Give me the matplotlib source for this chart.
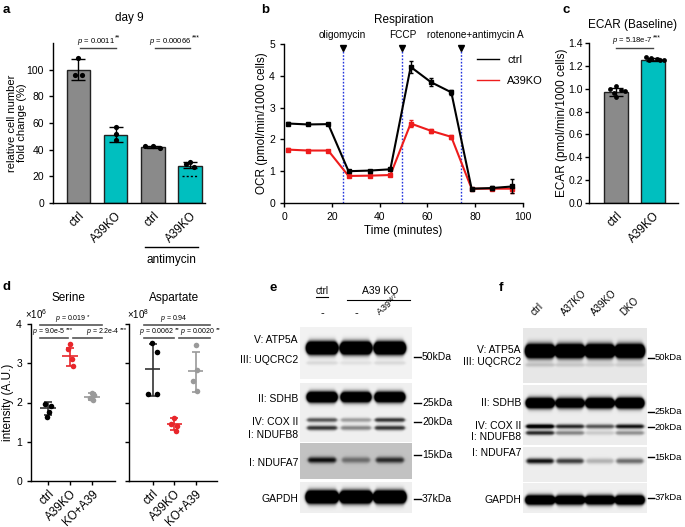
import numpy as np
import matplotlib
matplotlib.use('Agg')
import matplotlib.pyplot as plt
from matplotlib.lines import Line2D

plt.rcParams['font.family'] = ['Liberation Sans', 'DejaVu Sans']
plt.rcParams['mathtext.fontset'] = 'custom'
plt.rcParams['mathtext.rm'] = 'Liberation Sans'
plt.rcParams['mathtext.it'] = 'Liberation Sans:italic'
plt.rcParams['axes.linewidth'] = 1.0
plt.rcParams['xtick.major.width'] = 1.0
plt.rcParams['ytick.major.width'] = 1.0
plt.rcParams['xtick.major.size'] = 3
plt.rcParams['ytick.major.size'] = 3
plt.rcParams['font.size'] = 7.5

GRAY = '#8a8a8a'
TEAL = '#00bfbf'

# ---- data -------------------------------------------------------------
# a: day 9 cell number
a_labels = ['ctrl', 'A39KO', 'ctrl', 'A39KO']
a_means = [100, 51, 42, 28]
a_err_lo = [92, 46, 41.5, 26]
a_err_hi = [108, 57, 42.8, 31]
a_points = [[109, 96, 96], [57, 52, 47], [42.5, 42.5, 41.5], [31, 29, 27]]
a_jitter = [[0.0, -0.1, 0.1], [0.0, 0.0, 0.0], [-0.2, 0.0, 0.2], [0.0, -0.1, 0.1]]
a_dotted = 20

# b: respiration (Seahorse)
b_time = [1.5, 10, 18.5, 27, 36, 44.5, 53, 61.5, 70, 78.5, 87, 95.5]
b_ctrl = [2.50, 2.47, 2.48, 1.00, 1.02, 1.06, 4.28, 3.80, 3.48, 0.45, 0.47, 0.52]
b_ctrl_err = [0.05, 0.03, 0.02, 0.03, 0.03, 0.03, 0.18, 0.12, 0.08, 0.03, 0.06, 0.22]
b_ko = [1.68, 1.65, 1.65, 0.85, 0.86, 0.88, 2.50, 2.27, 2.08, 0.45, 0.45, 0.45]
b_ko_err = [0.05, 0.03, 0.03, 0.04, 0.03, 0.03, 0.10, 0.07, 0.07, 0.03, 0.04, 0.12]
b_inject = [24.5, 49.5, 74]
b_inject_labels = ['oligomycin', 'FCCP', 'rotenone+antimycin A']
b_inject_text_x = [24.3, 49.9, 80]

# c: ECAR
c_labels = ['ctrl', 'A39KO']
c_means = [0.975, 1.255]
c_err = [0.035, 0.015]
c_points = [[1.02, 1.0, 0.99, 0.98, 0.96, 0.93], [1.28, 1.27, 1.26, 1.25, 1.25, 1.25]]
c_jitter = [[0.0, -0.15, 0.15, 0.25, -0.05, 0.0], [-0.2, -0.05, 0.1, 0.2, 0.3, -0.1]]

# d: metabolites
d_labels = ['ctrl', 'A39KO', 'KO+A39']
ser_points = [[1.95, 1.91, 1.77, 1.64], [3.49, 3.36, 3.10, 2.94], [2.25, 2.20, 2.12, 2.07]]
ser_mean = [1.87, 3.18, 2.15]
ser_lo = [1.68, 2.93, 2.07]
ser_hi = [2.02, 3.40, 2.23]
asp_points = [[3.52, 3.29, 2.22, 2.22], [1.60, 1.45, 1.40, 1.28], [3.47, 2.82, 2.55, 2.30]]
asp_mean = [2.85, 1.44, 2.80]
asp_lo = [2.17, 1.30, 2.28]
asp_hi = [3.48, 1.60, 3.29]
d_jitter = [[-0.15, 0.15, 0.05, -0.05], [0.0, -0.1, 0.1, 0.15], [0.0, 0.1, -0.1, 0.05]]
asp_jitter = [[-0.05, 0.2, -0.2, 0.2], [0.0, -0.15, 0.15, 0.1], [0.0, 0.05, -0.1, 0.05]]
d_colors = ['black', '#e8262b', '#9a9a9a']

# e / f: western blot band intensities per lane
e_bands = {
    'ATP5A': [3.0, 3.0, 3.0],
    'UQCRC2': [0.10, 0.07, 0.10],
    'SDHB': [2.6, 2.4, 2.4],
    'COXII': [0.65, 0.35, 0.80],
    'NDUFB8': [0.80, 0.45, 0.80],
    'NDUFA7': [0.95, 0.45, 0.80],
    'GAPDH': [3.0, 3.0, 3.0],
}
f_bands = {
    'ATP5A': [3.0, 3.0, 3.0, 3.0],
    'UQCRC2': [0.16, 0.13, 0.10, 0.11],
    'SDHB': [2.4, 2.0, 2.4, 2.6],
    'COXII': [1.2, 0.85, 0.65, 0.95],
    'NDUFB8': [0.85, 0.45, 0.15, 0.40],
    'NDUFA7': [0.95, 0.75, 0.25, 0.55],
    'GAPDH': [2.2, 2.0, 2.0, 2.2],
}

W, H = 685, 527
fig = plt.figure(figsize=(W / 100, H / 100), dpi=100)


def ax_px(l, t, r, b):
    return fig.add_axes([l / W, 1 - b / H, (r - l) / W, (b - t) / H])


def ptext(ax, x, y, txt, stars='', fs=5.5):
    t = ax.text(x, y, r'$\it{p}$ = ' + txt, ha='center', va='bottom', fontsize=fs, clip_on=False)
    if stars:
        ax.annotate(stars, xy=(1, 0.45), xycoords=t, ha='left', va='bottom', fontsize=fs * 0.9,
                    xytext=(0.2, 0), textcoords='offset points', annotation_clip=False)
    return t


def clean(ax):
    ax.spines['top'].set_visible(False)
    ax.spines['right'].set_visible(False)


# ---- panel a ----------------------------------------------------------
ax = ax_px(53, 43, 205, 203)
clean(ax)
xa = np.arange(len(a_means))
cols = [GRAY, TEAL, GRAY, TEAL]
ax.bar(xa, a_means, width=0.63, color=cols, edgecolor='#222222', linewidth=1.0, zorder=1)
yerr = [np.array(a_means) - np.array(a_err_lo), np.array(a_err_hi) - np.array(a_means)]
ax.errorbar(xa, a_means, yerr=yerr, fmt='none', ecolor='black', elinewidth=1.0, capsize=5, capthick=1.0, zorder=3)
for i, pts in enumerate(a_points):
    ax.scatter(xa[i] + np.array(a_jitter[i]), pts, s=14, color='black', zorder=4, lw=0)
ax.hlines(a_dotted, 3 - 0.22, 3 + 0.22, colors='black', linestyles=(0, (1.5, 1.5)), lw=1.0, zorder=3)
ax.set_xlim(-0.68, 3.4)
ax.set_ylim(0, 120)
ax.set_yticks([0, 20, 40, 60, 80, 100])
ax.set_xticks(xa)
ax.set_xticklabels(a_labels, rotation=45, ha='right', rotation_mode='anchor', fontsize=8.5)
ax.tick_params(axis='x', length=0, pad=5)
ax.set_ylabel('relative cell number\nfold change (%)', fontsize=8, linespacing=1.05)
ax.yaxis.set_label_coords(-0.17, 0.5)
ax.set_title('day 9', fontsize=8.5, pad=16)
for (x0, x1, txt, st) in [(0.05, 1.0, '0.0011', '**'), (2.05, 3.0, '0.00066', '***')]:
    ax.plot([x0, x1], [116, 116], color='#444444', lw=1.0, clip_on=False)
    ptext(ax, (x0 + x1) / 2 - 0.05, 117.3, txt, st)

# ---- panel b ----------------------------------------------------------
ax = ax_px(284, 44, 523, 203)
clean(ax)
ax.errorbar(b_time, b_ctrl, yerr=b_ctrl_err, color='black', lw=1.5, capsize=1.5, elinewidth=1.0,
            marker='s', ms=2.5, zorder=3)
ax.errorbar(b_time, b_ko, yerr=b_ko_err, color='#ee1c1c', lw=1.5, capsize=1.5, elinewidth=1.0,
            marker='s', ms=2.5, zorder=2)
for xi, lab, tx in zip(b_inject, b_inject_labels, b_inject_text_x):
    ax.plot([xi, xi], [0, 4.78], color='#2233dd', lw=1.0, ls=(0, (1.2, 1.2)), zorder=1)
    ax.plot([xi], [4.87], marker='v', color='black', ms=4, clip_on=False)
    ax.text(tx, 5.28, lab, ha='center', va='center', fontsize=7.2, clip_on=False)
ax.set_xlim(0, 100)
ax.set_ylim(0, 5)
ax.set_xticks([0, 20, 40, 60, 80, 100])
ax.set_yticks([0, 1, 2, 3, 4, 5])
ax.set_xlabel('Time (minutes)', fontsize=8.5, labelpad=2)
ax.set_ylabel('OCR (pmol/min/1000 cells)', fontsize=8.5)
ax.yaxis.set_label_coords(-0.067, 0.5)
ax.set_title('Respiration', fontsize=8.5, pad=15)
handles = [Line2D([], [], color='black', lw=1.0), Line2D([], [], color='#ee1c1c', lw=1.0)]
ax.legend(handles, ['ctrl', 'A39KO'], frameon=False, loc='upper left', bbox_to_anchor=(0.79, 0.96),
          handlelength=2.0, labelspacing=1.0, fontsize=8, borderaxespad=0, handletextpad=0.7)

# ---- panel c ----------------------------------------------------------
ax = ax_px(589, 43, 678, 203)
clean(ax)
xc = np.arange(2)
ax.bar(xc, c_means, width=0.63, color=[GRAY, TEAL], edgecolor='#222222', linewidth=1.0, zorder=1)
ax.errorbar(xc, c_means, yerr=c_err, fmt='none', ecolor='black', elinewidth=1.0, capsize=5, capthick=1.0, zorder=3)
for i, pts in enumerate(c_points):
    ax.scatter(xc[i] + np.array(c_jitter[i]), pts, s=12, color='black', zorder=4, lw=0)
ax.set_xlim(-0.73, 1.68)
ax.set_ylim(0, 1.4)
ax.set_yticks(np.arange(0, 1.41, 0.2))
ax.set_yticklabels(['%.1f' % v for v in np.arange(0, 1.41, 0.2)])
ax.tick_params(axis='y', pad=1.5)
ax.set_xticks(xc)
ax.set_xticklabels(c_labels, rotation=45, ha='right', rotation_mode='anchor', fontsize=8.5)
ax.tick_params(axis='x', length=0, pad=5)
ax.set_ylabel('ECAR (pmol/min/1000 cells)', fontsize=8.5)
ax.yaxis.set_label_coords(-0.236, 0.5)
ax.plot([0, 1], [1.356, 1.356], color='#444444', lw=1.0, clip_on=False)
ptext(ax, 0.45, 1.37, '5.18e-7', '***')
ax.text(0.45, 1.56, 'ECAR (Baseline)', ha='center', va='center', fontsize=8.5, clip_on=False)


# ---- panel d ----------------------------------------------------------
def dot_panel(ax, pts_all, mean, lo, hi, jit, cols, xlim):
    clean(ax)
    for i in range(3):
        xs = i + np.array(jit[i])
        ecol = cols[i] if i else '#333333'
        ax.scatter(xs, pts_all[i], s=16, color=cols[i], zorder=3, lw=0)
        ax.errorbar([i], [mean[i]], yerr=[[mean[i] - lo[i]], [hi[i] - mean[i]]], fmt='none',
                    ecolor=ecol, elinewidth=1.2, capsize=3, capthick=1.2, zorder=2)
        ax.hlines(mean[i], i - 0.35, i + 0.35, colors=ecol, lw=1.2, zorder=2)
    ax.set_xlim(*xlim)
    ax.set_ylim(0, 4)
    ax.set_xticks([0, 1, 2])
    ax.set_xticklabels(d_labels, rotation=45, ha='right', rotation_mode='anchor', fontsize=8.5)
    ax.tick_params(axis='x', length=3, pad=2)


ax = ax_px(31, 324, 115, 481)
dot_panel(ax, ser_points, ser_mean, ser_lo, ser_hi, d_jitter, d_colors, (-0.77, 3.05))
ax.set_yticks([0, 1, 2, 3, 4])
ax.set_ylabel('intensity (A.U.)', fontsize=8.5)
ax.yaxis.set_label_coords(-0.2, 0.5)
ax.text(0.95, 4.66, 'Serine', ha='center', va='center', fontsize=8.5, clip_on=False)
ax.text(-1.05, 4.25, r'$\times10^{6}$', ha='left', va='center', fontsize=7, clip_on=False)
for (x0, x1, y, tx, txt, st) in [(-0.36, 2.46, 3.97, 1.05, '0.019', '*'),
                                 (-0.36, 0.91, 3.64, 0.05, '9.0e-5', '***'),
                                 (1.14, 2.46, 3.64, 2.5, '2.2e-4', '***')]:
    ax.plot([x0, x1], [y, y], color='#555555', lw=1.2, clip_on=False)
    ptext(ax, tx, y + 0.03, txt, st, fs=5)

ax = ax_px(129, 324, 217, 481)
dot_panel(ax, asp_points, asp_mean, asp_lo, asp_hi, asp_jitter, d_colors, (-1.1, 3.0))
ax.set_yticks([0, 1, 2, 3, 4])
ax.set_yticklabels([])
ax.text(1.0, 4.66, 'Aspartate', ha='center', va='center', fontsize=8.5, clip_on=False)
ax.text(-1.2, 4.25, r'$\times10^{8}$', ha='left', va='center', fontsize=7, clip_on=False)
for (x0, x1, y, tx, txt, st) in [(-0.39, 2.66, 3.97, 1.0, '0.94', ''),
                                 (-0.39, 0.99, 3.64, 0.2, '0.0062', '**'),
                                 (1.23, 2.66, 3.64, 2.1, '0.0020', '**')]:
    ax.plot([x0, x1], [y, y], color='#555555', lw=1.2, clip_on=False)
    ptext(ax, tx, y + 0.03, txt, st, fs=5)

# ---- overlay in pixel coordinates (letters, blots, annotations) -------
ov = fig.add_axes([0, 0, 1, 1], zorder=-1)
ov.set_xlim(0, W)
ov.set_ylim(H, 0)
ov.axis('off')

for lx, ly, lt in [(3, 10, 'a'), (261, 10, 'b'), (563, 10, 'c'), (3, 287, 'd'), (270, 288, 'e'), (499, 288, 'f')]:
    ov.text(lx, ly, lt, fontsize=9.5, fontweight='bold', ha='left', va='center')

# antimycin bracket under panel a
ov.plot([145, 198], [247, 247], color='black', lw=1.0)
ov.text(171.5, 254, 'antimycin', ha='center', va='top', fontsize=8.5)


def blot(x0, x1, y0, y1, bg, lanes_x, band_w, bands):
    xs = np.linspace(x0, x1, int((x1 - x0) * 3))
    ys = np.linspace(y0, y1, int((y1 - y0) * 3))
    X, Y = np.meshgrid(xs, ys)
    dark = np.zeros_like(X)
    for yc, sig, amps in bands:
        gy = np.exp(-0.5 * ((Y - yc) / sig) ** 2)
        for xc, a in zip(lanes_x, amps):
            half = band_w / 2 - 2.0 * np.clip(np.abs(Y - yc) / (sig * 2.2), 0, 1) ** 2
            gx = 0.5 * (np.tanh((X - (xc - half)) / 1.6) - np.tanh((X - (xc + half)) / 1.6))
            dark += a * gx * gy
    img = bg * (1 - np.clip(dark, 0, 1))
    ov.imshow(img, extent=(x0, x1, y1, y0), cmap='gray', vmin=0, vmax=1, aspect='auto',
              interpolation='bilinear', zorder=1)


# panel e
e_lx = [322, 356, 390]
blot(300, 412, 327, 379, 0.95, e_lx, 31, [(348, 4.0, e_bands['ATP5A']), (363, 1.5, e_bands['UQCRC2'])])
blot(300, 412, 383, 442, 0.94, e_lx, 30, [(397, 3.4, e_bands['SDHB']), (420, 1.6, e_bands['COXII']),
                                         (428, 1.7, e_bands['NDUFB8'])])
blot(300, 412, 443, 479, 0.76, e_lx, 28, [(460, 2.2, e_bands['NDUFA7'])])
blot(300, 412, 482, 513, 0.94, e_lx, 32, [(497, 4.0, e_bands['GAPDH'])])

for ty, tl in [(340, 'V: ATP5A'), (360, 'III: UQCRC2'), (399, 'II: SDHB'), (422, 'IV: COX II'),
               (435, 'I: NDUFB8'), (463, 'I: NDUFA7'), (499, 'GAPDH')]:
    ov.text(298, ty, tl, ha='right', va='center', fontsize=7.5)
for ty, tl in [(357, '50kDa'), (403, '25kDa'), (422, '20kDa'), (455, '15kDa'), (499, '37kDa')]:
    ov.plot([414, 421], [ty, ty], color='black', lw=1.0)
    ov.text(422, ty, tl, ha='left', va='center', fontsize=7.5)
ov.text(322, 291, 'ctrl', ha='center', va='center', fontsize=7)
ov.plot([316, 328], [297, 297], color='black', lw=0.8)
ov.text(380, 291, 'A39 KO', ha='center', va='center', fontsize=7.5)
ov.plot([347, 410], [300, 300], color='black', lw=0.8)
ov.text(322, 313, '-', ha='center', va='center', fontsize=8)
ov.text(356, 313, '-', ha='center', va='center', fontsize=8)
ov.text(381, 318, r'A39$^{WT}$', ha='left', va='bottom', fontsize=6.5, rotation=40, rotation_mode='anchor')

# panel f
f_lx = [540, 570, 600, 630]
blot(523, 647, 328, 383, 0.91, f_lx, 29, [(351, 4.3, f_bands['ATP5A']), (365, 1.5, f_bands['UQCRC2'])])
blot(523, 647, 385, 445, 0.93, f_lx, 28, [(403, 3.4, f_bands['SDHB']), (426.5, 1.6, f_bands['COXII']),
                                         (433, 1.6, f_bands['NDUFB8'])])
blot(523, 647, 447, 482, 0.93, f_lx, 27, [(461, 2.0, f_bands['NDUFA7'])])
blot(523, 647, 483, 513, 0.94, f_lx, 29, [(500, 3.2, f_bands['GAPDH'])])

for ty, tl in [(350, 'V: ATP5A'), (362, 'III: UQCRC2'), (403, 'II: SDHB'), (426, 'IV: COX II'),
               (437, 'I: NDUFB8'), (453, 'I: NDUFA7'), (500, 'GAPDH')]:
    ov.text(521, ty, tl, ha='right', va='center', fontsize=7.5)
for ty, tl in [(358, '50kDa'), (412, '25kDa'), (427, '20kDa'), (457, '15kDa'), (498, '37kDa')]:
    ov.plot([648, 654], [ty, ty], color='black', lw=1.0)
    ov.text(654.5, ty, tl, ha='left', va='center', fontsize=6.8)
for xl, tl in zip(f_lx, ['ctrl', 'A37KO', 'A39KO', 'DKO']):
    ov.text(xl - 4, 317, tl, ha='left', va='bottom', fontsize=7, rotation=45, rotation_mode='anchor')

fig.savefig('out.png', dpi=100)
